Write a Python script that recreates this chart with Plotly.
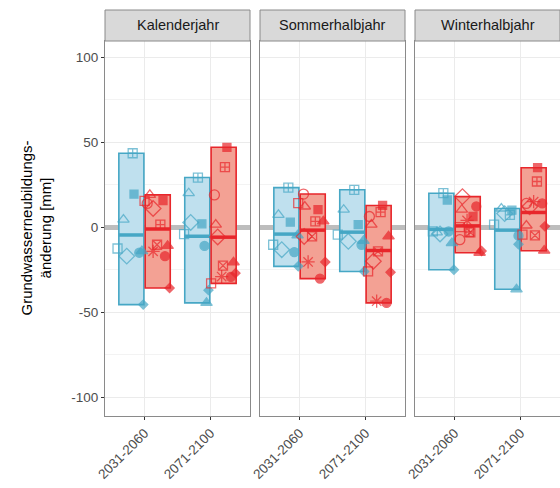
import plotly.graph_objects as go

# ---- data -------------------------------------------------------------
SEASONS = ["Kalenderjahr", "Sommerhalbjahr", "Winterhalbjahr"]
PERIODS = ["2031-2060", "2071-2100"]
Y_TICKS = [-100, -50, 0, 50, 100]
Y_TICK_TEXT = ["-100", "-50", "0", "50", "100"]

# ensemble members (identified by their plotting symbol)
MODELS_BLUE = ["sqplus", "sqfill", "triopen", "sqopen", "diaopen",
               "circfill", "diafill", "trifill"]
MODELS_RED = MODELS_BLUE + ["circopen", "sqx", "aster"]

# groundwater recharge change [mm], one value per member
kal_blue_2031 = [43.5, 19.5, 4.5, -12.5, -17.0, -15.0, -45.5, -14.0]
kal_blue_2071 = [29.2, 2.0, 20.0, -4.0, 2.8, -11.0, -37.0, -44.5]
som_blue_2031 = [23.3, 3.0, 7.3, -10.3, -13.2, -14.6, -23.0, -4.8]
som_blue_2071 = [22.0, 1.5, 10.3, -4.4, -8.3, -10.3, -26.0, -8.0]
win_blue_2031 = [20.0, 16.0, -3.0, -2.4, -4.0, -2.5, -25.0, -9.3]
win_blue_2071 = [7.3, 10.0, 11.0, 1.5, 8.0, -5.0, -10.0, -36.5]

kal_red_2031 = [1.5, 15.7, 19.0, 15.5, 11.0, -17.0, -35.7, -11.0, 14.0, -10.3, -14.2]
kal_red_2071 = [35.3, 47.0, 1.5, -33.0, -5.7, -29.2, -27.0, -20.6, 19.0, -22.6, -29.0]
som_red_2031 = [3.4, 10.3, 12.2, 14.2, -5.4, -30.2, -20.4, 3.4, 19.5, -5.4, -20.4]
som_red_2071 = [8.9, 12.8, 1.5, -26.0, -20.0, -44.5, -26.5, -5.4, 6.3, -14.2, -43.5]
win_red_2031 = [-2.8, 6.3, 10.3, 0.0, 18.0, 12.2, -14.0, -15.0, -7.3, -3.0, 4.0]
win_red_2071 = [26.9, 35.0, 1.0, -4.4, 12.0, 14.0, 0.5, -13.8, 14.0, -4.8, 15.0]

BLUE = {"Kalenderjahr": [kal_blue_2031, kal_blue_2071],
        "Sommerhalbjahr": [som_blue_2031, som_blue_2071],
        "Winterhalbjahr": [win_blue_2031, win_blue_2071]}
RED = {"Kalenderjahr": [kal_red_2031, kal_red_2071],
       "Sommerhalbjahr": [som_red_2031, som_red_2071],
       "Winterhalbjahr": [win_red_2031, win_red_2071]}

# horizontal jitter of the member points (category units, relative to the period)
JITTER_BLUE = {
    "Kalenderjahr": [[-0.18, -0.16, -0.32, -0.41, -0.27, -0.08, -0.02, -0.04],
                     [-0.19, -0.13, -0.33, -0.40, -0.30, -0.09, -0.03, -0.06]],
    "Sommerhalbjahr": [[-0.17, -0.14, -0.32, -0.40, -0.27, -0.08, -0.02, -0.03],
                       [-0.17, -0.11, -0.33, -0.42, -0.26, -0.06, -0.02, -0.03]],
    "Winterhalbjahr": [[-0.17, -0.11, -0.27, -0.33, -0.22, -0.09, -0.01, -0.04],
                       [-0.16, -0.13, -0.29, -0.40, -0.24, -0.03, -0.03, -0.06]],
}
JITTER_RED = {
    "Kalenderjahr": [[0.24, 0.28, 0.08, 0.00, 0.13, 0.31, 0.38, 0.35, 0.04, 0.19, 0.13],
                     [0.22, 0.25, 0.08, 0.01, 0.11, 0.31, 0.38, 0.35, 0.06, 0.19, 0.17]],
    "Sommerhalbjahr": [[0.24, 0.28, 0.08, -0.02, 0.07, 0.31, 0.39, 0.36, 0.06, 0.19, 0.13],
                       [0.23, 0.26, 0.09, 0.04, 0.12, 0.32, 0.38, 0.35, 0.06, 0.19, 0.17]],
    "Winterhalbjahr": [[0.22, 0.28, 0.11, 0.08, 0.12, 0.33, 0.41, 0.38, 0.08, 0.24, 0.19],
                       [0.25, 0.26, 0.09, 0.03, 0.14, 0.33, 0.37, 0.36, 0.09, 0.22, 0.20]],
}

# ---- styling ------------------------------------------------------------
FONT = "Liberation Sans, Arial, sans-serif"
BLUE_LINE, BLUE_FILL = "#46a7c5", "#bfe0ee"
RED_LINE, RED_FILL = "#e8262b", "#f3a194"
SYMBOLS = {
    "sqplus": ("square-cross-open", 9), "sqfill": ("square", 8),
    "triopen": ("triangle-up-open", 10), "sqopen": ("square-open", 9),
    "diaopen": ("diamond-open", 12), "circfill": ("circle", 9),
    "diafill": ("diamond", 7), "trifill": ("triangle-up", 10),
    "circopen": ("circle-open", 10), "sqx": ("square-x-open", 9),
    "aster": ("asterisk-open", 11),
}
DODGE = 0.2
BOX_W = 0.38

W, H = 560, 488
PANEL_X = [(105, 250), (260, 405), (415, 560)]
PANEL_TOP, PANEL_BOTTOM = 41, 416
STRIP_TOP = 10
Y_DOM = [1 - PANEL_BOTTOM / H, 1 - PANEL_TOP / H]
Y_RANGE = [-111, 109.5]

fig = go.Figure()

def add_group(values_by_period, offset, line_col, fill_col, xa, ya):
    centers, lows, spans, means = [], [], [], []
    for p, vals in enumerate(values_by_period):
        c = p + 1 + offset
        lo, hi = min(vals), max(vals)
        centers.append(c)
        lows.append(lo)
        spans.append(hi - lo)
        means.append(sum(vals) / len(vals))
    fig.add_trace(go.Bar(
        x=centers, y=spans, base=lows, width=[BOX_W] * len(centers),
        marker=dict(color=fill_col, line=dict(color=line_col, width=1.6)),
        xaxis=xa, yaxis=ya, showlegend=False, hoverinfo="skip"))
    for c, m in zip(centers, means):
        fig.add_trace(go.Scatter(
            x=[c - BOX_W / 2, c + BOX_W / 2], y=[m, m], mode="lines",
            line=dict(color=line_col, width=3.5),
            xaxis=xa, yaxis=ya, showlegend=False, hoverinfo="skip"))

def add_points(values_by_period, jitter_by_period, models, line_col, xa, ya):
    xs, ys, syms, sizes = [], [], [], []
    for p, (vals, jit) in enumerate(zip(values_by_period, jitter_by_period)):
        for mdl, v, j in zip(models, vals, jit):
            xs.append(p + 1 + j)
            ys.append(v)
            syms.append(SYMBOLS[mdl][0])
            sizes.append(SYMBOLS[mdl][1])
    fig.add_trace(go.Scatter(
        x=xs, y=ys, mode="markers",
        marker=dict(symbol=syms, size=sizes, color=line_col,
                    line=dict(color=line_col, width=1.3)),
        xaxis=xa, yaxis=ya, showlegend=False, hoverinfo="skip"))

shapes, annotations = [], []
for i, season in enumerate(SEASONS):
    xa = "x" if i == 0 else f"x{i + 1}"
    ya = "y" if i == 0 else f"y{i + 1}"
    add_group(BLUE[season], -DODGE, BLUE_LINE, BLUE_FILL, xa, ya)
    add_group(RED[season], DODGE, RED_LINE, RED_FILL, xa, ya)
    add_points(BLUE[season], JITTER_BLUE[season], MODELS_BLUE, BLUE_LINE, xa, ya)
    add_points(RED[season], JITTER_RED[season], MODELS_RED, RED_LINE, xa, ya)

    x0, x1 = PANEL_X[i][0] / W, min(PANEL_X[i][1] / W, 1.0)
    xkey = "xaxis" if i == 0 else f"xaxis{i + 1}"
    ykey = "yaxis" if i == 0 else f"yaxis{i + 1}"
    fig.layout[xkey] = dict(
        domain=[x0, x1], range=[0.4, 2.6], anchor=ya,
        tickmode="array", tickvals=[1, 2], ticktext=PERIODS,
        tickangle=-45, ticks="outside", ticklen=3, tickcolor="#333333",
        tickfont=dict(family=FONT, size=13.5, color="#4d4d4d"),
        showgrid=True, gridcolor="#ebebeb", gridwidth=1, zeroline=False,
        showline=True, mirror=True, linecolor="#8a8a8a", linewidth=1,
        automargin=False)
    fig.layout[ykey] = dict(
        domain=Y_DOM, range=Y_RANGE, anchor=xa,
        tickmode="array", tickvals=Y_TICKS, ticktext=Y_TICK_TEXT,
        showticklabels=(i == 0), ticks="outside" if i == 0 else "",
        ticklen=3, tickcolor="#333333",
        tickfont=dict(family=FONT, size=13.5, color="#4d4d4d"),
        showgrid=True, gridcolor="#ebebeb", gridwidth=1,
        minor=dict(tickmode="linear", tick0=-125, dtick=25, showgrid=True,
                   gridcolor="#f3f3f3", gridwidth=0.6, ticks=""),
        zeroline=True, zerolinecolor="#bdbdbd", zerolinewidth=4.5,
        showline=True, mirror=True, linecolor="#8a8a8a", linewidth=1,
        automargin=False)

    # facet strip
    s0, s1 = Y_DOM[1], 1 - STRIP_TOP / H
    shapes.append(dict(type="rect", xref="paper", yref="paper",
                       x0=x0, x1=x1, y0=s0, y1=s1,
                       fillcolor="#d9d9d9", line=dict(color="#8a8a8a", width=1),
                       layer="above"))
    annotations.append(dict(text=season, xref="paper", yref="paper",
                            x=(x0 + x1) / 2, y=(s0 + s1) / 2,
                            xanchor="center", yanchor="middle", showarrow=False,
                            font=dict(family=FONT, size=14.5, color="#1a1a1a")))

annotations.append(dict(
    text="Grundwasserneubildungs-<br>änderung [mm]",
    xref="paper", yref="paper", x=36 / W, y=sum(Y_DOM) / 2,
    xanchor="center", yanchor="middle", textangle=-90, showarrow=False,
    font=dict(family=FONT, size=15, color="#000000")))

fig.update_layout(
    width=W, height=H, autosize=False,
    margin=dict(l=0, r=0, t=0, b=0),
    paper_bgcolor="white", plot_bgcolor="white",
    barmode="overlay", showlegend=False,
    shapes=shapes, annotations=annotations)

fig.write_html("out.html")
